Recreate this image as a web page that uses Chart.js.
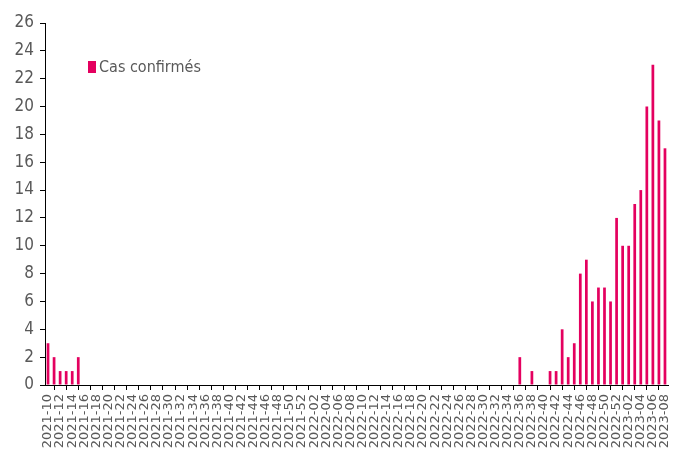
<!DOCTYPE html>
<html>
<head>
<meta charset="utf-8">
<script src="https://cdn.jsdelivr.net/npm/chart.js@4"></script>
<style>
  body { margin: 0; background: #fff; }
  #wrap { position: relative; width: 673px; height: 460px; }
  #legend { position: absolute; left: 88px; top: 57px; font-family: 'Liberation Sans Narrow', 'DejaVu Sans Condensed', sans-serif; font-size: 16px; color: #595959; }
  #legend span.box { display: inline-block; width: 8px; height: 12px; background: #e4005f; margin-right: 3px; vertical-align: -1px; }
</style>
</head>
<body>
<div id="wrap">
  <canvas id="casChart" width="673" height="460"></canvas>
  <div id="legend"><span class="box"></span>Cas confirmés</div>
</div>
<script>
// weeks 2021-10 .. 2023-08
const weeks = [
    '2021-10','2021-11','2021-12','2021-13','2021-14','2021-15','2021-16','2021-17','2021-18','2021-19',
    '2021-20','2021-21','2021-22','2021-23','2021-24','2021-25','2021-26','2021-27','2021-28','2021-29',
    '2021-30','2021-31','2021-32','2021-33','2021-34','2021-35','2021-36','2021-37','2021-38','2021-39',
    '2021-40','2021-41','2021-42','2021-43','2021-44','2021-45','2021-46','2021-47','2021-48','2021-49',
    '2021-50','2021-51','2021-52',
    '2022-01','2022-02','2022-03','2022-04','2022-05','2022-06','2022-07','2022-08','2022-09','2022-10',
    '2022-11','2022-12','2022-13','2022-14','2022-15','2022-16','2022-17','2022-18','2022-19','2022-20',
    '2022-21','2022-22','2022-23','2022-24','2022-25','2022-26','2022-27','2022-28','2022-29','2022-30',
    '2022-31','2022-32','2022-33','2022-34','2022-35','2022-36','2022-37','2022-38','2022-39','2022-40',
    '2022-41','2022-42','2022-43','2022-44','2022-45','2022-46','2022-47','2022-48','2022-49','2022-50',
    '2022-51','2022-52',
    '2023-01','2023-02','2023-03','2023-04','2023-05','2023-06','2023-07','2023-08'
];

const cas2021 = [3, 2, 1, 1, 1, 2, 0, 0, 0, 0,
                 0, 0, 0, 0, 0, 0, 0, 0, 0, 0,
                 0, 0, 0, 0, 0, 0, 0, 0, 0, 0,
                 0, 0, 0, 0, 0, 0, 0, 0, 0, 0,
                 0, 0, 0];
const cas2022 = [0, 0, 0, 0, 0, 0, 0, 0, 0, 0,
                 0, 0, 0, 0, 0, 0, 0, 0, 0, 0,
                 0, 0, 0, 0, 0, 0, 0, 0, 0, 0,
                 0, 0, 0, 0, 0, 2, 0, 1, 0, 0,
                 1, 1, 4, 2, 3, 8, 9, 6, 7, 7,
                 6, 12];
const cas2023 = [10, 10, 13, 14, 20, 23, 19, 17];
const casConfirmes = cas2021.concat(cas2022, cas2023);

const yTicks = [0, 2, 4, 6, 8, 10, 12, 14, 16, 18, 20, 22, 24, 26];

const grey = '#595959';
const pink = '#e4005f';
const font = "'Liberation Sans Narrow', 'DejaVu Sans Condensed', sans-serif";

const ctx = document.getElementById('casChart').getContext('2d');
new Chart(ctx, {
    type: 'bar',
    data: {
        labels: weeks,
        datasets: [{
            label: 'Cas confirmés',
            data: casConfirmes,
            backgroundColor: pink,
            borderWidth: 0,
            barPercentage: 0.45,
            categoryPercentage: 1
        }]
    },
    options: {
        responsive: false,
        animation: false,
        layout: { padding: { top: 23, right: 0, left: 0, bottom: 0 } },
        plugins: {
            legend: { display: false },
            tooltip: { enabled: false }
        },
        scales: {
            x: {
                afterFit: function (scale) {
                    scale.height = 75;
                    scale.paddingRight = 5;
                    scale.paddingLeft = 0;
                },
                grid: {
                    drawOnChartArea: false,
                    drawTicks: true,
                    tickLength: 5,
                    color: '#000'
                },
                border: { color: '#000', width: 1 },
                ticks: {
                    autoSkip: false,
                    maxRotation: 90,
                    minRotation: 90,
                    color: grey,
                    padding: 4,
                    font: { family: "'DejaVu Sans', sans-serif", size: 13 },
                    callback: function (val, i) {
                        return i % 2 === 0 ? weeks[i] : null;
                    }
                }
            },
            y: {
                min: 0,
                max: 26,
                afterBuildTicks: function (scale) {
                    scale.ticks = yTicks.map(v => ({ value: v }));
                },
                afterFit: function (scale) { scale.width = 45; },
                grid: {
                    drawOnChartArea: false,
                    drawTicks: true,
                    tickLength: 5,
                    color: '#000'
                },
                border: { color: '#000', width: 1 },
                ticks: {
                    color: grey,
                    padding: 6,
                    font: { family: font, size: 17 }
                }
            }
        }
    }
});
</script>
</body>
</html>
